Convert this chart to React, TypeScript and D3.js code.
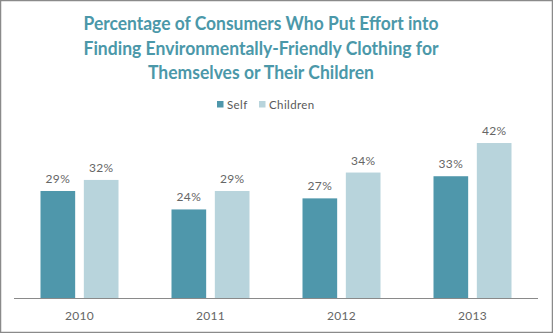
import React from "react";
import * as d3 from "d3";

const years = ["2010", "2011", "2012", "2013"];
const seriesNames = ["Self", "Children"];
const selfValues = [29, 24, 27, 33];
const childrenValues = [32, 29, 34, 42];
const titleLines = [
  "Percentage of Consumers Who Put Effort into",
  "Finding Environmentally-Friendly Clothing for",
  "Themselves or Their Children",
];
const titleWidths = [355, 355, 226];

const W = 553;
const H = 333;
const colors = ["#4f97ab", "#b8d4dc"];
const FONT = "Lato, 'Open Sans', sans-serif";

export default function App() {
  const groupWidth = 78;
  const x1 = d3
    .scaleBand<string>()
    .domain(seriesNames)
    .range([0, groupWidth])
    .paddingInner(0.2);
  const y = d3.scaleLinear().domain([0, 50]).range([298, 113.5]);
  const data = [selfValues, childrenValues];
  const step = 524 / years.length;

  return (
    <svg
      width={W}
      height={H}
      style={{ position: "fixed", left: 0, top: 0, background: "#fff" }}
      fontFamily={FONT}
    >
      <rect x={0.5} y={0.5} width={W - 1} height={H - 1} fill="#fff" stroke="#8a8a8a" strokeWidth={1.5} />
      {titleLines.map((t, i) => (
        <text
          key={i}
          x={261}
          y={30 + i * 24.5}
          textAnchor="middle"
          fontSize={18.5}
          fontWeight="bold"
          fill="#4b98a9"
          fontFamily="Lato, 'Open Sans', sans-serif"
          textLength={titleWidths[i]}
          lengthAdjust="spacingAndGlyphs"
        >
          {t}
        </text>
      ))}
      {seriesNames.map((s, i) => {
        const lx = i === 0 ? 217 : 259;
        return (
          <g key={s}>
            <rect x={lx} y={101} width={6.5} height={6.5} fill={colors[i]} />
            <text x={lx + 10} y={108.5} fontSize={11.5} fill="#595959" letterSpacing={0.4}>
              {s}
            </text>
          </g>
        );
      })}
      {years.map((yr, gi) => {
        const gx = 14 + step * gi + (step - groupWidth) / 2;
        return (
          <g key={yr}>
            {seriesNames.map((s, si) => {
              const v = data[si][gi];
              const bx = gx + (x1(s) as number);
              const bw = x1.bandwidth();
              return (
                <g key={s}>
                  <rect x={bx} y={y(v)} width={bw} height={y(0) - y(v)} fill={colors[si]} />
                  <text
                    x={bx + bw / 2}
                    y={y(v) - 8}
                    textAnchor="middle"
                    fontSize={12}
                    fill="#666"
                    letterSpacing={0.3}
                  >
                    {v}%
                  </text>
                </g>
              );
            })}
            <text
              x={14 + step * gi + step / 2}
              y={320}
              textAnchor="middle"
              fontSize={12}
              fill="#666"
              letterSpacing={0.3}
            >
              {yr}
            </text>
          </g>
        );
      })}
      <line x1={14} x2={538} y1={298.5} y2={298.5} stroke="#8a8a8a" strokeWidth={1} />
    </svg>
  );
}
